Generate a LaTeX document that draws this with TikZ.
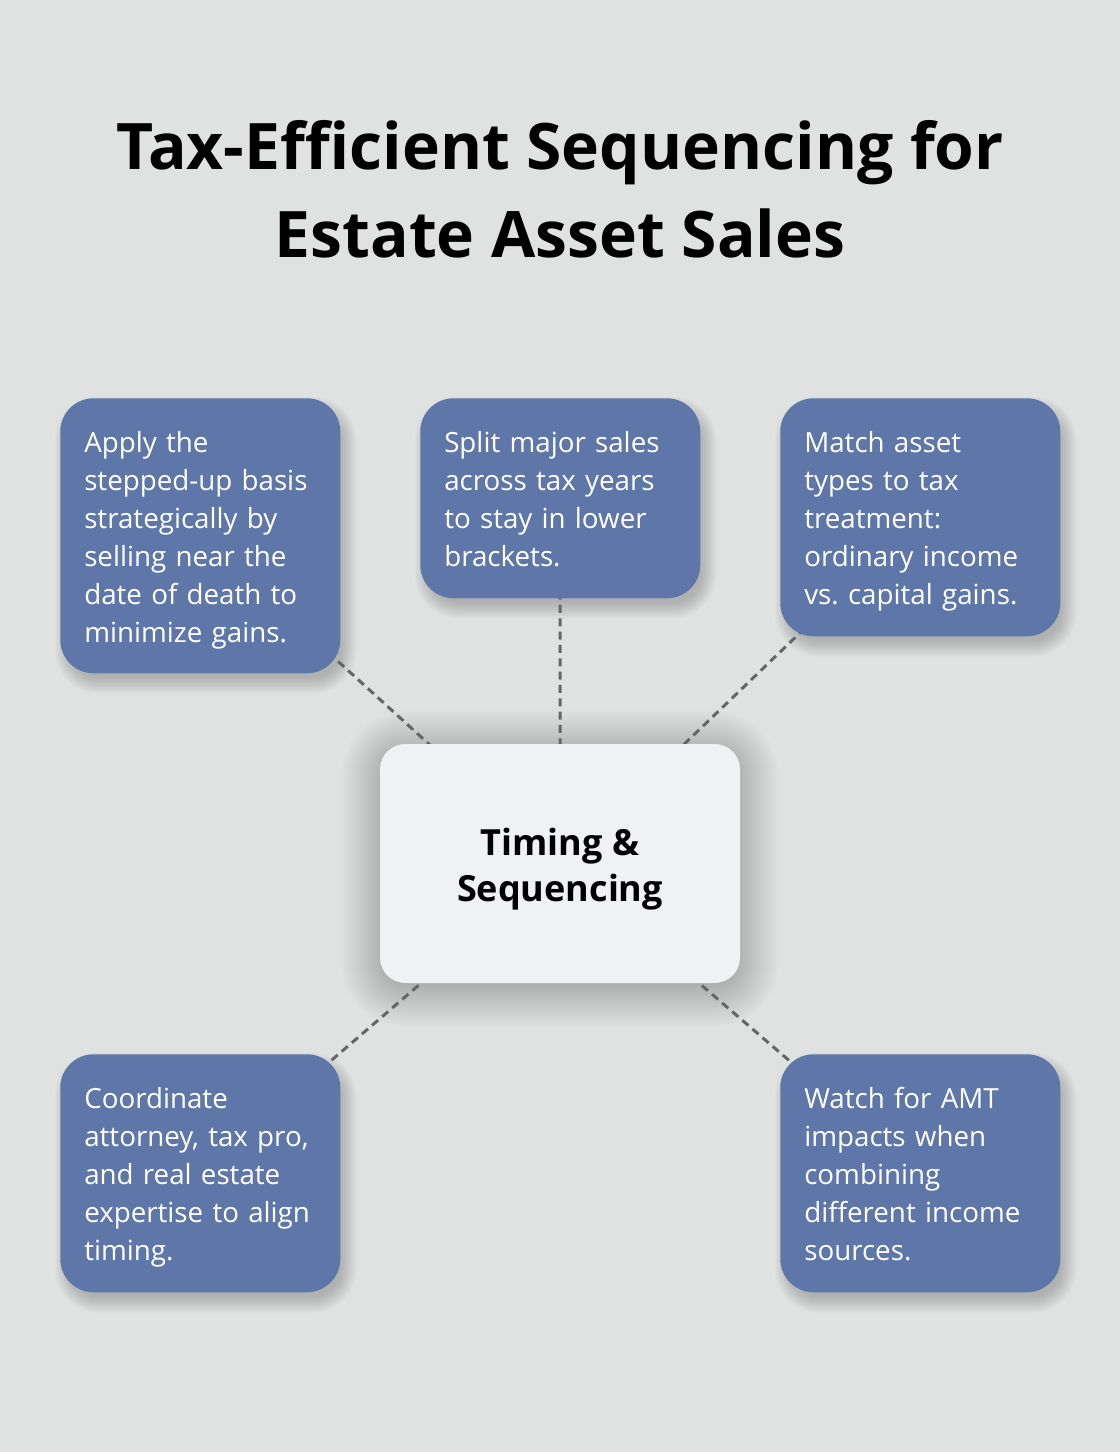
\documentclass[tikz,border=0pt]{standalone}
\usepackage{fontspec}
\setmainfont{Open Sans}
\frenchspacing
\definecolor{bgcol}{HTML}{E0E2E1}
\definecolor{boxblue}{HTML}{5E77A8}
\definecolor{centerfill}{HTML}{F0F1F3}
\definecolor{dashgray}{HTML}{666666}
\pgfdeclarelayer{back}
\pgfsetlayers{back,main}
\newcommand{\btop}{\rule{0pt}{23.25pt}}
\newcommand{\bbot}{\rule[-6pt]{0pt}{6pt}}
\newcommand{\ctop}{\rule{0pt}{30.5pt}}
\newcommand{\cbot}{\rule[-8pt]{0pt}{8pt}}
% #1 node, #2 corner radius (pt), #3 dx (pt), #4 dy down (pt),
% #5 first layer, #6 last layer, #7 growth per layer (pt), #8 opacity per layer
\newcommand{\mysoftshadow}[8]{%
  \foreach \k in {#5,...,#6}{%
    \pgfmathsetmacro{\gg}{\k*#7}%
    \pgfmathsetmacro{\rr}{#2+\gg}%
    \fill[black, opacity=#8, rounded corners=\rr pt]
      ([xshift=#3pt-\gg pt, yshift=\gg pt-#4pt]#1.north west) rectangle
      ([xshift=#3pt+\gg pt, yshift=-\gg pt-#4pt]#1.south east);
  }%
}
\begin{document}
\begin{tikzpicture}[x=0.75pt,y=-0.75pt,
  infobox/.style={fill=boxblue, rounded corners=25pt, text=white,
    font=\fontsize{20.8}{28.5}\selectfont, align=left, text width=174pt,
    inner xsep=18pt, inner ysep=0pt, minimum width=210pt, anchor=north west},
  centerbox/.style={fill=centerfill, rounded corners=19pt, minimum width=270pt,
    minimum height=179.25pt, font=\bfseries\fontsize{27}{35}\selectfont, align=center,
    inner sep=0pt},
  titletext/.style={font=\bfseries\fontsize{48.1}{65}\selectfont, anchor=base},
  link/.style={draw=dashgray, line width=2.25pt, dash pattern=on 6pt off 4pt}]
\begin{pgfonlayer}{back}
\fill[bgcol] (0,0) rectangle (1120,1452);
\end{pgfonlayer}
\useasboundingbox (0,0) rectangle (1120,1452);

\node[titletext] (t1) at (560,170) {Tax-Efficient Sequencing for};
\node[titletext] (t2) at (560,257) {Estate Asset Sales};

\node[centerbox] (c) at (560,863.5) {\ctop Timing \&\\Sequencing\cbot};

\node[infobox, minimum height=206.25pt] (b1) at (60,398)
  {\btop Apply the\\stepped-up basis\\strategically by\\selling near the\\date of death to\\minimize gains.\bbot};
\node[infobox, minimum height=150pt] (b2) at (420,398)
  {\btop Split major sales\\across tax years\\to stay in lower\\brackets.\bbot};
\node[infobox, minimum height=178.5pt] (b3) at (780,398)
  {\btop Match asset\\types to tax\\treatment:\\ordinary income\\vs. capital gains.\bbot};
\node[infobox, minimum height=178.5pt] (b4) at (60,1054)
  {\btop Coordinate\\attorney, tax pro,\\and real estate\\expertise to align\\timing.\bbot};
\node[infobox, minimum height=178.5pt] (b5) at (780,1054)
  {\btop Watch for AMT\\impacts when\\combining\\different income\\sources.\bbot};

\begin{pgfonlayer}{back}
\mysoftshadow{c}{19}{0}{4}{-2}{22}{1.3}{0.008}
\mysoftshadow{b1}{25}{4}{7}{-4}{8}{1}{0.014}
\mysoftshadow{b2}{25}{4}{7}{-4}{8}{1}{0.014}
\mysoftshadow{b3}{25}{4}{7}{-4}{8}{1}{0.014}
\mysoftshadow{b4}{25}{4}{7}{-4}{8}{1}{0.014}
\mysoftshadow{b5}{25}{4}{7}{-4}{8}{1}{0.014}
\draw[link] (b1.center) -- (c.center);
\draw[link] (b2.center) -- (c.center);
\draw[link] (b3.center) -- (c.center);
\draw[link] (b4.center) -- (c.center);
\draw[link] (b5.center) -- (c.center);
\end{pgfonlayer}
\end{tikzpicture}
\end{document}
